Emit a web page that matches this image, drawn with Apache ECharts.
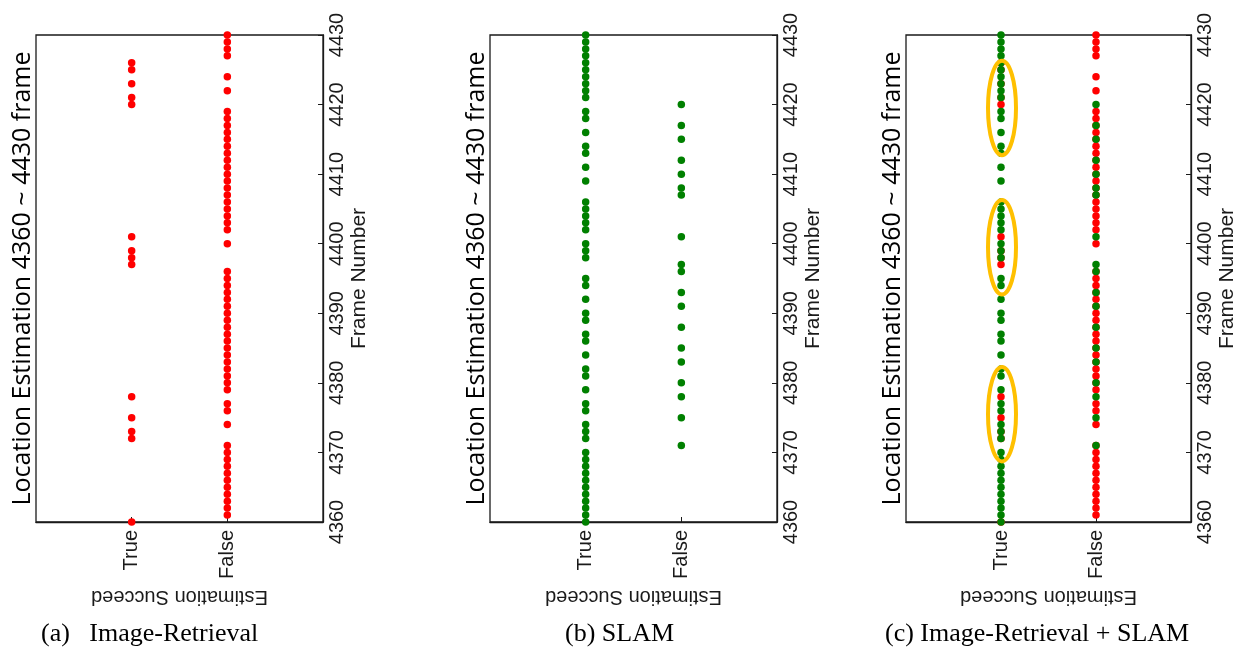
<!DOCTYPE html>
<html lang="en">
<head>
<meta charset="utf-8">
<title>Location Estimation 4360 ~ 4430 frame</title>
<style>
  html, body { margin: 0; padding: 0; background: #fff; }
  #main { width: 1239px; height: 647px; }
</style>
</head>
<body>
<div id="main"></div>
<script src="https://cdn.jsdelivr.net/npm/echarts@6/dist/echarts.min.js"></script>
<script type="text/javascript">
// frame axis ticks and the two outcome categories
var frameTicks = [4360, 4370, 4380, 4390, 4400, 4410, 4420, 4430];
var outcomes = ['True', 'False'];

// (a) Image-Retrieval
var irTrue = [4360, 4372, 4373, 4375, 4378, 4397, 4398, 4399, 4401, 4420, 4421, 4423, 4425, 4426];
var irFalse = [4361, 4362, 4363, 4364, 4365, 4366, 4367, 4368, 4369, 4370, 4371, 4374, 4376, 4377,
    4379, 4380, 4381, 4382, 4383, 4384, 4385, 4386, 4387, 4388, 4389, 4390, 4391, 4392, 4393, 4394,
    4395, 4396, 4400, 4402, 4403, 4404, 4405, 4406, 4407, 4408, 4409, 4410, 4411, 4412, 4413, 4414,
    4415, 4416, 4417, 4418, 4419, 4422, 4424, 4427, 4428, 4429, 4430];

// (b) SLAM
var slamTrue = [4360, 4361, 4362, 4363, 4364, 4365, 4366, 4367, 4368, 4369, 4370, 4372, 4373, 4374,
    4376, 4377, 4379, 4381, 4382, 4384, 4386, 4387, 4389, 4390, 4392, 4394, 4395, 4398, 4399, 4400,
    4402, 4403, 4404, 4405, 4406, 4409, 4411, 4413, 4414, 4416, 4418, 4419, 4421, 4422, 4423, 4424,
    4425, 4426, 4427, 4428, 4429, 4430];
var slamFalse = [4371, 4375, 4378, 4380, 4383, 4385, 4388, 4391, 4393, 4396, 4397, 4401, 4407, 4408,
    4410, 4412, 4415, 4417, 4420];

// frame ranges circled in (c)
var circledRanges = [[4413, 4426], [4393, 4406], [4369, 4382]];

var captions = ['(a)   Image-Retrieval', '(b) SLAM', '(c) Image-Retrieval + SLAM'];
var panelTitle = 'Location Estimation 4360 ~ 4430 frame';

var RED = '#ff0000', GREEN = '#008000', ORANGE = '#ffc000', INK = '#1a1a1a';
var panelLeft = [36, 490, 906];
var captionLeft = [36, 560, 880];
var gridTop = 35, gridW = 287, gridH = 487;

var myChart = echarts.init(document.getElementById('main'));

function pts(frames, outcome) {
    var x = outcomes.indexOf(outcome) + 1;
    return frames.map(function (f) { return [x, f]; });
}

function dots(grid, frames, outcome, color, z) {
    return {
        type: 'scatter', xAxisIndex: grid, yAxisIndex: grid,
        data: pts(frames, outcome),
        symbolSize: 7.5, clip: true, z: z,
        itemStyle: { color: color, opacity: 1 },
        silent: true
    };
}

var tickFont = { fontFamily: 'Liberation Sans', fontSize: 20, color: INK };
var grids = [], xAxes = [], yAxes = [], titles = [], graphics = [];

for (var i = 0; i < 3; i++) {
    grids.push({ left: panelLeft[i], top: gridTop, width: gridW, height: gridH,
        show: true, borderColor: INK, borderWidth: 1.3, backgroundColor: '#fff' });
    xAxes.push({
        gridIndex: i, type: 'value', min: 0, max: outcomes.length + 1, interval: 1,
        axisLine: { onZero: false, lineStyle: { color: INK, width: 1.3 } },
        axisTick: { inside: true, length: 5, customValues: [1, 2], lineStyle: { color: INK } },
        axisLabel: Object.assign({ rotate: 90, margin: 8, customValues: [1, 2],
            formatter: function (v) { return outcomes[v - 1] || ''; } }, tickFont),
        splitLine: { show: false },
        name: 'Estimation Succeed', nameLocation: 'middle', nameRotate: 180, nameGap: 57,
        nameTextStyle: { fontFamily: 'Liberation Sans', fontSize: 20, color: INK }
    });
    yAxes.push({
        gridIndex: i, type: 'value', position: 'right',
        min: frameTicks[0], max: frameTicks[frameTicks.length - 1],
        interval: frameTicks[1] - frameTicks[0],
        axisLine: { show: true, onZero: false, lineStyle: { color: INK, width: 1.3 } },
        axisTick: { show: true, inside: true, length: 5, lineStyle: { color: INK } },
        axisLabel: Object.assign({ rotate: 90, margin: 4,
            formatter: function (v) { return String(v); } }, tickFont),
        splitLine: { show: false },
        name: 'Frame Number', nameLocation: 'middle', nameRotate: 90, nameGap: 26,
        nameTextStyle: { fontFamily: 'Liberation Sans', fontSize: 21, color: INK }
    });
    titles.push({
        text: captions[i], left: captionLeft[i], top: 616,
        textStyle: { fontFamily: 'Liberation Serif', fontSize: 26, fontWeight: 'normal', color: '#000' }
    });
    graphics.push({
        type: 'text', x: panelLeft[i] - 13, y: gridTop + gridH / 2, rotation: Math.PI / 2,
        style: { text: panelTitle, font: '25px "Open Sans"', fill: '#000',
            align: 'center', verticalAlign: 'middle', textAlign: 'center', textVerticalAlign: 'middle' },
        z: 10
    });
}

var series = [
    dots(0, irTrue, 'True', RED, 2),
    dots(0, irFalse, 'False', RED, 2),
    dots(1, slamTrue, 'True', GREEN, 3),
    dots(1, slamFalse, 'False', GREEN, 3),
    // (c) both methods overlaid, SLAM drawn on top
    dots(2, irTrue, 'True', RED, 2),
    dots(2, irFalse, 'False', RED, 2),
    dots(2, slamTrue, 'True', GREEN, 3),
    dots(2, slamFalse, 'False', GREEN, 3)
];

var option = {
    animation: false,
    backgroundColor: '#fff',
    title: titles,
    grid: grids,
    xAxis: xAxes,
    yAxis: yAxes,
    series: series,
    graphic: graphics
};
myChart.setOption(option);

// orange ellipses around the circled frames in (c), placed through the axis scale
var rings = circledRanges.map(function (r) {
    var top = myChart.convertToPixel({ gridIndex: 2 }, [1, r[1]]);
    var bot = myChart.convertToPixel({ gridIndex: 2 }, [1, r[0]]);
    return {
        type: 'ellipse',
        shape: { cx: top[0] + 1, cy: (top[1] + bot[1]) / 2, rx: 14, ry: (bot[1] - top[1]) / 2 + 2 },
        style: { fill: 'none', stroke: ORANGE, lineWidth: 4 },
        z: 20
    };
});
myChart.setOption({ graphic: graphics.concat(rings) });
</script>
</body>
</html>
